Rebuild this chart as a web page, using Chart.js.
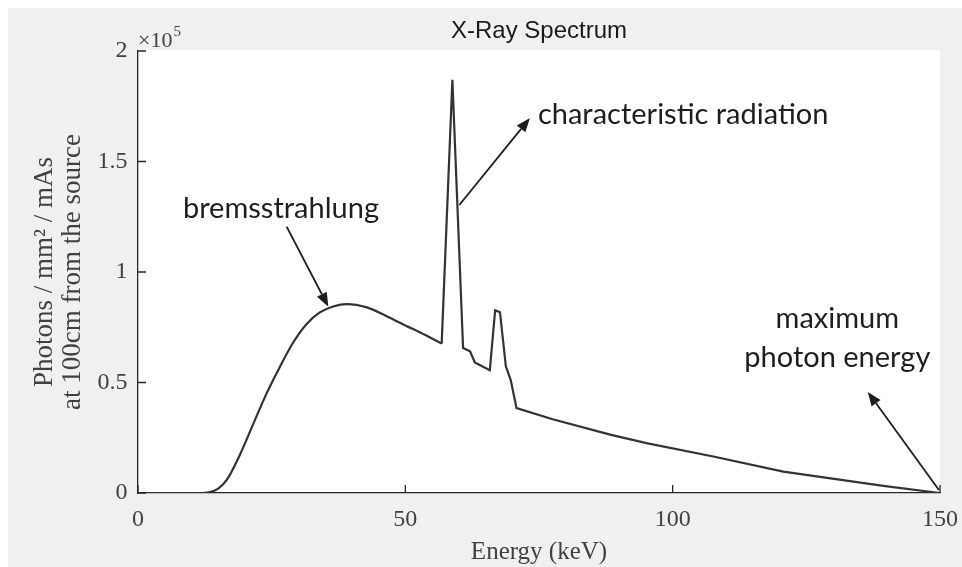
<!DOCTYPE html>
<html>
<head>
<meta charset="utf-8">
<title>X-Ray Spectrum</title>
<script src="https://cdn.jsdelivr.net/npm/chart.js@4.4.1/dist/chart.umd.min.js"></script>
<style>
  html, body { margin: 0; padding: 0; background: #ffffff; }
  #wrap { width: 962px; height: 567px; }
</style>
</head>
<body>
<div id="wrap"><canvas id="spectrum" width="962" height="567"></canvas></div>
<script>
// Tube output spectrum: photon energy (keV) against photons / mm^2 / mAs at 100 cm
const energyKeV = [
  0, 5, 10, 12, 13.2, 15.0, 16.6, 19.1, 21.6, 24.1, 26.6, 29.0, 31.5, 34.0, 36.5,
  39.0, 42.8, 46.5, 50.2, 52.7, 56.8,
  58.8, 60.8, 62.1, 63.0, 65.8, 66.8, 67.7, 68.8, 69.7, 70.8,
  77.4, 88.3, 95.1, 107.6, 120.7, 139.4, 150
];
const photons = [
  0, 0, 0, 0, 300, 2000, 5900, 17500, 31500, 45300, 57400, 68000, 76400, 81700, 84400,
  85500, 84000, 80000, 75600, 72700, 67600,
  187000, 65600, 64100, 59100, 55500, 82700, 81800, 57300, 51200, 38400,
  33500, 26400, 22600, 16500, 9700, 3200, 0
];
// last point of the smooth bremsstrahlung hump, where the K lines begin
const humpEndKeV = 56.8;

const xTicks = [0, 50, 100, 150];
const yTicks = [0, 50000, 100000, 150000, 200000];
const yTickLabels = ['0', '0.5', '1', '1.5', '2'];

// call-out labels and arrows, in data units (keV, photons)
const calloutText = ['bremsstrahlung', 'characteristic radiation', 'maximum', 'photon energy'];
const calloutX = [8.4, 74.8, 130.8, 130.8];
const calloutY = [124400, 167000, 74700, 57100];
const arrowTailX = [27.8, 60.1, 149.8];
const arrowTailY = [120500, 130300, 1400];
const arrowTipX = [35.6, 73.3, 136.5];
const arrowTipY = [84300, 169700, 45700];

const points = energyKeV.map((e, i) => ({ x: e, y: photons[i] }));
const split = energyKeV.indexOf(humpEndKeV);
const humpPoints = points.slice(0, split + 1);
const linePoints = points.slice(split);

const SERIF = "'Liberation Serif', 'Times New Roman', serif";
const SANS = "'Liberation Sans', Arial, sans-serif";
const NOTE = "Lato, 'Open Sans', sans-serif";
const INK = '#333333';
const AXIS = '#262626';

const figureBackground = {
  id: 'figureBackground',
  beforeDraw(chart) {
    const { ctx, width, height, chartArea: a } = chart;
    ctx.save();
    ctx.fillStyle = '#ffffff';
    ctx.fillRect(0, 0, width, height);
    ctx.fillStyle = '#f0f0f0';
    ctx.fillRect(8, 8, width - 8, height - 8);
    ctx.fillStyle = '#ffffff';
    ctx.fillRect(a.left, a.top - 1, a.right - a.left, a.bottom - a.top + 1);
    ctx.restore();
  }
};

function drawArrow(ctx, x0, y0, x1, y1) {
  const ang = Math.atan2(y1 - y0, x1 - x0);
  const hl = 14, hw = 5.5;
  const bx = x1 - hl * Math.cos(ang);
  const by = y1 - hl * Math.sin(ang);
  ctx.beginPath();
  ctx.moveTo(x0, y0);
  ctx.lineTo(bx, by);
  ctx.stroke();
  ctx.beginPath();
  ctx.moveTo(x1, y1);
  ctx.lineTo(bx + hw * Math.sin(ang), by - hw * Math.cos(ang));
  ctx.lineTo(bx - hw * Math.sin(ang), by + hw * Math.cos(ang));
  ctx.closePath();
  ctx.fill();
}

const axisDecor = {
  id: 'axisDecor',
  afterDatasetsDraw(chart) {
    const { ctx, chartArea: a, scales: { x, y } } = chart;
    ctx.save();
    // inward tick marks on the left and bottom axes
    ctx.strokeStyle = AXIS;
    ctx.lineWidth = 1.3;
    ctx.beginPath();
    xTicks.forEach(v => {
      const px = x.getPixelForValue(v);
      ctx.moveTo(px, a.bottom);
      ctx.lineTo(px, a.bottom - 8);
    });
    yTicks.forEach(v => {
      const py = y.getPixelForValue(v);
      ctx.moveTo(a.left, py);
      ctx.lineTo(a.left + 8, py);
    });
    ctx.stroke();

    // exponent of the y axis
    ctx.fillStyle = '#404040';
    ctx.textBaseline = 'alphabetic';
    ctx.textAlign = 'left';
    ctx.font = '22px ' + SERIF;
    const base = '\u00d710';
    ctx.fillText(base, a.left, a.top - 4);
    const w = ctx.measureText(base).width;
    ctx.font = '15px ' + SERIF;
    ctx.fillText('5', a.left + w + 1, a.top - 15);

    // call-outs
    ctx.fillStyle = '#1e1e1e';
    ctx.strokeStyle = '#1e1e1e';
    ctx.lineWidth = 1.8;
    arrowTailX.forEach((v, i) => {
      drawArrow(ctx,
        x.getPixelForValue(v), y.getPixelForValue(arrowTailY[i]),
        x.getPixelForValue(arrowTipX[i]), y.getPixelForValue(arrowTipY[i]));
    });
    ctx.font = '29px ' + NOTE;
    calloutText.forEach((t, i) => {
      ctx.textAlign = i < 2 ? 'left' : 'center';
      ctx.fillText(t, x.getPixelForValue(calloutX[i]), y.getPixelForValue(calloutY[i]));
    });
    ctx.restore();
  }
};

const lineStyle = {
  borderColor: INK,
  borderWidth: 2.2,
  pointRadius: 0,
  fill: false
};

new Chart(document.getElementById('spectrum'), {
  type: 'line',
  data: {
    datasets: [
      Object.assign({ label: 'bremsstrahlung', data: humpPoints, cubicInterpolationMode: 'monotone' }, lineStyle),
      Object.assign({ label: 'characteristic lines', data: linePoints, tension: 0 }, lineStyle)
    ]
  },
  options: {
    responsive: false,
    animation: false,
    layout: { padding: { left: 0, right: 22, top: 0, bottom: 0 } },
    plugins: {
      legend: { display: false },
      tooltip: { enabled: false },
      title: {
        display: true,
        text: 'X-Ray Spectrum',
        position: 'top',
        fullSize: false,
        color: '#1a1a1a',
        font: { family: SANS, size: 24, weight: 'normal', lineHeight: 1.2 },
        padding: { top: 17.3, bottom: 4.9 }
      }
    },
    scales: {
      x: {
        type: 'linear',
        min: 0,
        max: 150,
        afterBuildTicks: s => { s.ticks = xTicks.map(v => ({ value: v })); },
        afterFit: s => { s.height = 74; s.paddingLeft = 0; s.paddingRight = 0; },
        grid: { display: false, drawTicks: false },
        border: { display: true, color: AXIS, width: 1.3 },
        ticks: {
          color: '#404040',
          font: { family: SERIF, size: 24, lineHeight: 1 },
          padding: 15,
          maxRotation: 0,
          autoSkip: false
        },
        title: {
          display: true,
          text: 'Energy (keV)',
          color: '#404040',
          font: { family: SERIF, size: 25, lineHeight: 1.2 },
          padding: { top: 0, bottom: 0 }
        }
      },
      y: {
        type: 'linear',
        min: 0,
        max: 200000,
        afterBuildTicks: s => { s.ticks = yTicks.map(v => ({ value: v })); },
        afterFit: s => { s.width = 138; s.paddingTop = 0; s.paddingBottom = 0; },
        grid: { display: false, drawTicks: false },
        border: { display: true, color: AXIS, width: 1.3 },
        ticks: {
          color: '#404040',
          font: { family: SERIF, size: 24, lineHeight: 1 },
          padding: 10.5,
          autoSkip: false,
          callback: (v) => yTickLabels[yTicks.indexOf(v)]
        },
        title: {
          display: true,
          text: ['Photons / mm\u00b2 / mAs', 'at 100cm from the source'],
          color: '#404040',
          font: { family: SERIF, size: 27, lineHeight: 28 / 27 },
          padding: { top: 31, bottom: 0 }
        }
      }
    }
  },
  plugins: [figureBackground, axisDecor]
});
</script>
</body>
</html>
